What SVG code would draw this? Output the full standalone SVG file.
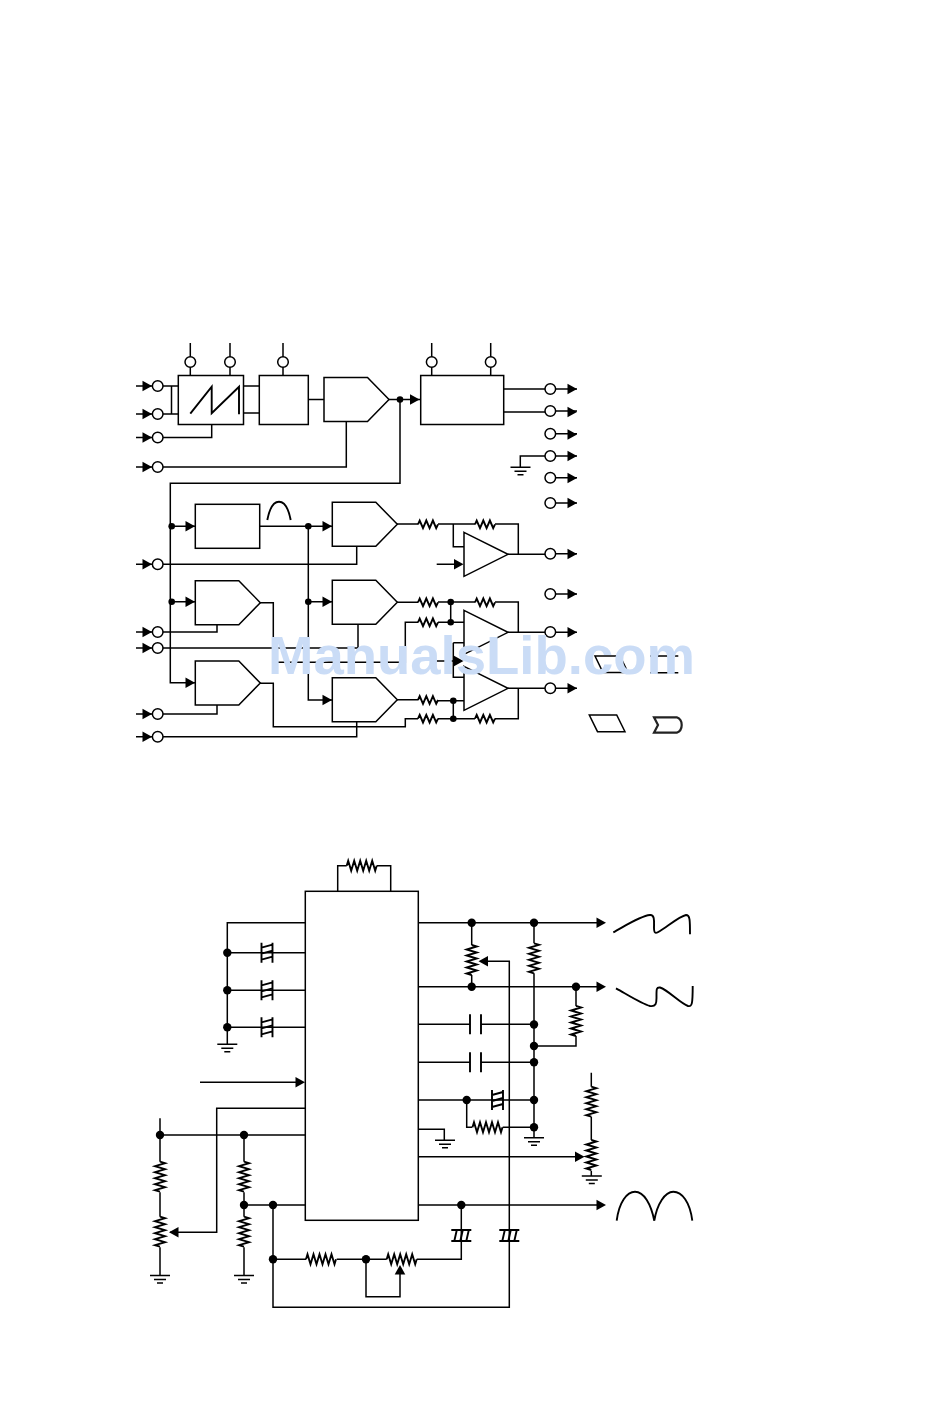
<svg xmlns="http://www.w3.org/2000/svg" xmlns:xlink="http://www.w3.org/1999/xlink" width="950" height="1420" viewBox="0 0 950 1420">
<style>
.l{fill:none;stroke:#000;stroke-width:1.5;stroke-linejoin:miter}
.t{fill:none;stroke:#000;stroke-width:1.9}
.b{fill:#fff;stroke:#000;stroke-width:1.5}
.c{fill:#fff;stroke:#000;stroke-width:1.5}
.d{fill:#000;stroke:none}
.w{font-family:"Liberation Sans",Arial,sans-serif;font-weight:700;font-size:54.5px;fill:#cadcf6}
</style>
<defs>
<polygon id="a" class="d" points="0,0 -9.5,-5.3 -9.5,5.3"/>
<circle id="o" class="c" r="5.3"/>
<circle id="p" class="d" r="3.3"/>
<circle id="q" class="d" r="4.2"/>
<path id="rs" class="t" d="M0 0L1.7 -3.8L5 3.8L8.3 -3.8L11.6 3.8L14.9 -3.8L18.2 3.8L20 0"/>
<path id="rl" class="t" d="M0 0L1.5 -5L4.5 5L7.5 -5L10.5 5L13.5 -5L16.5 5L19.5 -5L22.5 5L25.5 -5L28.5 5L30 0"/>
<g id="g"><path class="l" d="M-10 0H10M-6 4H6M-3 7.5H3"/></g>
<g id="hv"><path class="t" d="M-5.5 -10V10M5.5 -10V10M-5.5 -5L5.5 -8M-5.5 1L5.5 -2M-5.5 7L5.5 4"/></g>
<g id="hh"><path class="t" d="M-10 -5.5H10M-10 5.5H10M-7 5.5L-4.5 -5.5M-1 5.5L1.5 -5.5M5 5.5L7.5 -5.5"/></g>
<path id="cp" class="t" d="M-5.5 -10V10M5.5 -10V10"/>
<polygon id="amp" class="b" points="0,0 43.5,0 65,22 43.5,44 0,44"/>
<polygon id="opa" class="b" points="0,-22 44,0 0,22"/>
</defs>

<g id="connectors">
<path class="l" d="M136 386H157.7M136 414H157.7M136 437.5H157.7M136 467H157.7M136 564.3H157.7M136 632H157.7M136 648H157.7M136 714H157.7M136 736.7H157.7"/>
<path class="l" d="M163 386H178.3M163 414H178.3M171.5 386V414"/>
<path class="l" d="M190.3 343V375.5M230 343V375.5M283 343V375.5M431.7 343V375.5M490.7 343V375.5"/>
<path class="l" d="M243.5 386H259.3M243.5 413H259.3M308.3 399.5H324"/>
<path class="l" d="M211.7 424.5V437.5H163M346.3 421V467H163"/>
<path class="l" d="M388.7 399.5H420.5M400 399.5V483.3H170.3V682.7H195.3M170.3 526.3H195.3M170.3 601.7H195.3"/>
<path class="l" d="M503.7 389H550M503.7 412H550"/>
<path class="l" d="M550 389H577M550 411H577M550 433.7H577M550 456H577M550 477.7H577M550 503H577M550 553.7H577M550 594H577M550 632.3H577M550 688.3H577"/>
<path class="l" d="M545 456H520.3V467.3"/>
<path class="l" d="M259.7 526.3H332.3M308.3 526.3V700H332.3M308.3 601.7H332.3"/>
<path class="l" d="M356.7 546V564.3H163"/>
<path class="l" d="M397 524H418M438 524H475M495 524H518.3V554.3M453.3 524V546.7H464M508 554.3H545M436.7 564.3H455"/>
<path class="l" d="M217 624.3V632H163M358 624V648H163"/>
<path class="l" d="M259.7 602.7H273.3V662.3H405.3V622.3H418M438 622.3H464"/>
<path class="l" d="M397 602.3H418M438 602H475M495 602H518.3V632.3M450.7 602V622.3M508 632.3H545"/>
<path class="l" d="M453.3 642.7H464M453.3 642.7V677.3H464M436.7 661H455"/>
<path class="l" d="M217 704.7V714H163M356.7 721.3V736.7H163"/>
<path class="l" d="M259.7 683.3H273.3V726.7H405.3V718.7H418M438 718.7H475M495 718.7H518.3V688.3M397 699.7H418M438 700.7H464M453.3 700.7V718.7M508 688.3H545"/>
<path class="l" d="M337.7 891.3V865.7H346.7M376.7 865.7H390.7V891.3"/>
<path class="l" d="M305.3 922.7H227.3V1044.3M227.3 952.7H305.3M227.3 990.3H305.3M227.3 1027.3H305.3"/>
<path class="l" d="M200 1082.3H296"/>
<path class="l" d="M305.3 1108.3H216.7V1232.3H170"/>
<path class="l" d="M160 1118.3V1161.7M160 1192.3V1216.7M160 1247.3V1275.5M160 1135H305.3"/>
<path class="l" d="M244 1135V1161.7M244 1192.3V1216.7M244 1247.3V1275.5M244 1205H305.3"/>
<path class="l" d="M273 1205V1307.3H509.3V961.3H487M273 1259.3H306M336.7 1259.3H386.7M416.7 1259.3H461.3V1205"/>
<path class="l" d="M366 1259.3V1296.7H400V1274"/>
<path class="l" d="M418.3 922.7H597M471.7 922.7V945M471.7 975V986.7M534 922.7V943.3M534 973.3V1127.3"/>
<path class="l" d="M418.3 986.7H597M576 986.7V1006M576 1036V1046H534"/>
<path class="l" d="M418.3 1024.3H470M481 1024.3H534M418.3 1062.3H470M481 1062.3H534"/>
<path class="l" d="M418.3 1100H534M466.7 1100V1127.3H472.3M502.7 1127.3H534M534 1127.3V1137.7"/>
<path class="l" d="M418.3 1129.3H444.3V1140.3"/>
<path class="l" d="M418.3 1156.7H576M591.3 1072.7V1086.7M591.3 1116.7V1140M591.3 1170.7V1176"/>
<path class="l" d="M418.3 1205H597"/>
</g>

<g id="arrows">
<use xlink:href="#a" href="#a" x="152" y="386"/>
<use xlink:href="#a" href="#a" x="152" y="414"/>
<use xlink:href="#a" href="#a" x="152" y="437.5"/>
<use xlink:href="#a" href="#a" x="152" y="467"/>
<use xlink:href="#a" href="#a" x="152" y="564.3"/>
<use xlink:href="#a" href="#a" x="152" y="632"/>
<use xlink:href="#a" href="#a" x="152" y="648"/>
<use xlink:href="#a" href="#a" x="152" y="714"/>
<use xlink:href="#a" href="#a" x="152" y="736.7"/>
<use xlink:href="#a" href="#a" x="419.5" y="399.5"/>
<use xlink:href="#a" href="#a" x="195" y="526.3"/>
<use xlink:href="#a" href="#a" x="195" y="601.7"/>
<use xlink:href="#a" href="#a" x="195" y="682.7"/>
<use xlink:href="#a" href="#a" x="332" y="526.3"/>
<use xlink:href="#a" href="#a" x="332" y="601.7"/>
<use xlink:href="#a" href="#a" x="332" y="700"/>
<use xlink:href="#a" href="#a" x="463.5" y="564.3"/>
<use xlink:href="#a" href="#a" x="463.5" y="661"/>
<use xlink:href="#a" href="#a" x="577" y="389"/>
<use xlink:href="#a" href="#a" x="577" y="412"/>
<use xlink:href="#a" href="#a" x="577" y="434.5"/>
<use xlink:href="#a" href="#a" x="577" y="456"/>
<use xlink:href="#a" href="#a" x="577" y="478"/>
<use xlink:href="#a" href="#a" x="577" y="503"/>
<use xlink:href="#a" href="#a" x="577" y="554"/>
<use xlink:href="#a" href="#a" x="577" y="594"/>
<use xlink:href="#a" href="#a" x="577" y="632.3"/>
<use xlink:href="#a" href="#a" x="577" y="688.3"/>
<use xlink:href="#a" href="#a" x="305" y="1082.3"/>
<use xlink:href="#a" href="#a" x="606" y="922.7"/>
<use xlink:href="#a" href="#a" x="606" y="986.7"/>
<use xlink:href="#a" href="#a" x="584.5" y="1156.7"/>
<use xlink:href="#a" href="#a" x="606" y="1205"/>
<use xlink:href="#a" href="#a" transform="translate(478.5 961.3) rotate(180)"/>
<use xlink:href="#a" href="#a" transform="translate(169 1232.3) rotate(180)"/>
<use xlink:href="#a" href="#a" transform="translate(400 1265) rotate(-90)"/>
</g>

<g id="box-ramp"><rect class="b" x="178.3" y="375.5" width="65.2" height="49"/><path class="t" d="M190.3 413.7L211.7 386.7V413.3L239 386.7V414.3"/></g>
<g id="box-2"><rect class="b" x="259.3" y="375.5" width="49" height="49"/></g>
<g id="amp-1"><use xlink:href="#amp" href="#amp" x="324" y="377.5"/></g>
<g id="box-3"><rect class="b" x="420.7" y="375.5" width="83" height="49"/></g>
<g id="box-4"><rect class="b" x="195.3" y="504.3" width="64.4" height="44"/></g>
<g id="wave-bell"><path class="t" d="M267.3 520C270 506 274 501.7 279 501.7C284 501.7 288 506 290.7 520"/></g>
<g id="amp-2"><use xlink:href="#amp" href="#amp" x="332.3" y="502.3"/></g>
<g id="amp-3"><use xlink:href="#amp" href="#amp" x="195.3" y="580.7"/></g>
<g id="amp-4"><use xlink:href="#amp" href="#amp" x="332.3" y="580.3"/></g>
<g id="amp-5"><use xlink:href="#amp" href="#amp" x="195.3" y="661"/></g>
<g id="amp-6"><use xlink:href="#amp" href="#amp" x="332.3" y="677.7"/></g>
<g id="opamp-1"><use xlink:href="#opa" href="#opa" x="464" y="554.3"/></g>
<g id="opamp-2"><use xlink:href="#opa" href="#opa" x="464" y="632.3"/></g>
<g id="opamp-3"><use xlink:href="#opa" href="#opa" x="464" y="688.3"/></g>
<g id="top-res">
<use xlink:href="#rs" href="#rs" x="418" y="524.3"/><use xlink:href="#rs" href="#rs" x="475" y="524.3"/>
<use xlink:href="#rs" href="#rs" x="418" y="602.3"/><use xlink:href="#rs" href="#rs" x="475" y="602.3"/>
<use xlink:href="#rs" href="#rs" x="418" y="622.3"/>
<use xlink:href="#rs" href="#rs" x="418" y="700"/>
<use xlink:href="#rs" href="#rs" x="418" y="718.7"/><use xlink:href="#rs" href="#rs" x="475" y="718.7"/>
</g>
<g id="top-pins">
<use xlink:href="#o" href="#o" x="157.7" y="386"/><use xlink:href="#o" href="#o" x="157.7" y="414"/>
<use xlink:href="#o" href="#o" x="157.7" y="437.5"/><use xlink:href="#o" href="#o" x="157.7" y="467"/>
<use xlink:href="#o" href="#o" x="157.7" y="564.3"/><use xlink:href="#o" href="#o" x="157.7" y="632"/>
<use xlink:href="#o" href="#o" x="157.7" y="648"/><use xlink:href="#o" href="#o" x="157.7" y="714"/>
<use xlink:href="#o" href="#o" x="157.7" y="736.7"/>
<use xlink:href="#o" href="#o" x="190.3" y="362"/><use xlink:href="#o" href="#o" x="230" y="362"/>
<use xlink:href="#o" href="#o" x="283" y="362"/><use xlink:href="#o" href="#o" x="431.7" y="362"/>
<use xlink:href="#o" href="#o" x="490.7" y="362"/>
<use xlink:href="#o" href="#o" x="550.3" y="389"/><use xlink:href="#o" href="#o" x="550.3" y="411"/>
<use xlink:href="#o" href="#o" x="550.3" y="433.7"/><use xlink:href="#o" href="#o" x="550.3" y="456"/>
<use xlink:href="#o" href="#o" x="550.3" y="477.7"/><use xlink:href="#o" href="#o" x="550.3" y="503"/>
<use xlink:href="#o" href="#o" x="550.3" y="553.7"/><use xlink:href="#o" href="#o" x="550.3" y="594"/>
<use xlink:href="#o" href="#o" x="550.3" y="632"/><use xlink:href="#o" href="#o" x="550.3" y="688.3"/>
</g>
<g id="top-dots">
<use xlink:href="#p" href="#p" x="400" y="399.5"/><use xlink:href="#p" href="#p" x="171.7" y="526.3"/>
<use xlink:href="#p" href="#p" x="171.7" y="601.7"/><use xlink:href="#p" href="#p" x="308.3" y="526.3"/>
<use xlink:href="#p" href="#p" x="308.3" y="601.7"/><use xlink:href="#p" href="#p" x="450.7" y="602"/>
<use xlink:href="#p" href="#p" x="450.7" y="622.3"/><use xlink:href="#p" href="#p" x="453.3" y="700.7"/>
<use xlink:href="#p" href="#p" x="453.3" y="718.7"/>
</g>
<g id="top-ground"><use xlink:href="#g" href="#g" x="520.5" y="467.3"/></g>
<g id="marks">
<path class="l" d="M595 656H620L628 672.5H603Z"/>
<path class="l" d="M650 656H678.3M650 672.7H678.3"/>
<path class="l" d="M589.3 715H616.7L625 731.7H597.5Z"/>
<path fill="none" stroke="#222" stroke-width="2.2" d="M654 717.3H676.7Q681.7 719 681.7 725Q681.7 731 676.7 732.7H654L658 725Z"/>
</g>

<g id="ic"><rect class="b" x="305.3" y="891.3" width="113" height="329"/></g>
<g id="r-top"><use xlink:href="#rl" href="#rl" x="346.7" y="865.7"/></g>
<g id="caps-left">
<use xlink:href="#hv" href="#hv" x="267" y="952.7"/>
<use xlink:href="#hv" href="#hv" x="267" y="990.3"/>
<use xlink:href="#hv" href="#hv" x="267" y="1027.3"/>
</g>
<g id="cap-right"><use xlink:href="#hv" href="#hv" x="497.5" y="1100"/></g>
<g id="cap-bottom">
<use xlink:href="#hh" href="#hh" x="461.3" y="1235.5"/>
<use xlink:href="#hh" href="#hh" x="509.3" y="1235.5"/>
</g>
<g id="caps-plain">
<use xlink:href="#cp" href="#cp" x="475.5" y="1024.3"/>
<use xlink:href="#cp" href="#cp" x="475.5" y="1062.3"/>
</g>
<g id="res-vertical">
<use xlink:href="#rl" href="#rl" transform="translate(160 1161.7) rotate(90)"/>
<use xlink:href="#rl" href="#rl" transform="translate(160 1216.7) rotate(90)"/>
<use xlink:href="#rl" href="#rl" transform="translate(244 1161.7) rotate(90)"/>
<use xlink:href="#rl" href="#rl" transform="translate(244 1216.7) rotate(90)"/>
<use xlink:href="#rl" href="#rl" transform="translate(471.7 945) rotate(90)"/>
<use xlink:href="#rl" href="#rl" transform="translate(534 943.3) rotate(90)"/>
<use xlink:href="#rl" href="#rl" transform="translate(576 1006) rotate(90)"/>
<use xlink:href="#rl" href="#rl" transform="translate(591.3 1086.7) rotate(90)"/>
<use xlink:href="#rl" href="#rl" transform="translate(591.3 1140) rotate(90)"/>
</g>
<g id="res-horizontal">
<use xlink:href="#rl" href="#rl" x="306" y="1259.3"/>
<use xlink:href="#rl" href="#rl" x="386.7" y="1259.3"/>
<use xlink:href="#rl" href="#rl" x="472.5" y="1127.3"/>
</g>
<g id="grounds">
<use xlink:href="#g" href="#g" x="227.3" y="1044.3"/>
<use xlink:href="#g" href="#g" x="160" y="1275.5"/>
<use xlink:href="#g" href="#g" x="244" y="1275.5"/>
<use xlink:href="#g" href="#g" x="445" y="1140.3"/>
<use xlink:href="#g" href="#g" x="534" y="1137.7"/>
<use xlink:href="#g" href="#g" x="591.8" y="1176"/>
</g>
<g id="bottom-dots">
<use xlink:href="#q" href="#q" x="227.3" y="952.7"/><use xlink:href="#q" href="#q" x="227.3" y="990.3"/>
<use xlink:href="#q" href="#q" x="227.3" y="1027.3"/><use xlink:href="#q" href="#q" x="160" y="1135"/>
<use xlink:href="#q" href="#q" x="244" y="1135"/><use xlink:href="#q" href="#q" x="244" y="1205"/>
<use xlink:href="#q" href="#q" x="273" y="1205"/><use xlink:href="#q" href="#q" x="273" y="1259.3"/>
<use xlink:href="#q" href="#q" x="366" y="1259.3"/><use xlink:href="#q" href="#q" x="461.3" y="1205"/>
<use xlink:href="#q" href="#q" x="471.7" y="922.7"/><use xlink:href="#q" href="#q" x="534" y="922.7"/>
<use xlink:href="#q" href="#q" x="471.7" y="986.7"/><use xlink:href="#q" href="#q" x="576" y="986.7"/>
<use xlink:href="#q" href="#q" x="534" y="1024.5"/><use xlink:href="#q" href="#q" x="534" y="1046"/>
<use xlink:href="#q" href="#q" x="534" y="1062.3"/><use xlink:href="#q" href="#q" x="534" y="1100"/>
<use xlink:href="#q" href="#q" x="534" y="1127.3"/><use xlink:href="#q" href="#q" x="466.7" y="1100"/>
</g>
<g id="waveforms">
<path class="t" d="M613.3 932.3C625 926 640 916 650 915C655 914.5 654 922 654 928C654 935 657 933 660 931C668 926 680 916 686 915C690 915 690 920 690 934.3"/>
<path class="t" d="M616 988.3C628 995 642 1004 650 1006C656 1007 656.5 1003 656.5 998C656.5 990 656 987 660 987.5C668 990 680 1003 688 1006C692 1007 692.7 1004 692.7 986"/>
<path class="t" d="M616.7 1220.7C619 1202 627 1191.7 635 1191.7C644 1191.7 651 1204 654.3 1220.7C657 1204 665 1191.7 673.3 1191.7C682 1191.7 690 1202 692.3 1220.7"/>
</g>

<text class="w" x="268" y="674">ManualsLib.com</text>
</svg>
